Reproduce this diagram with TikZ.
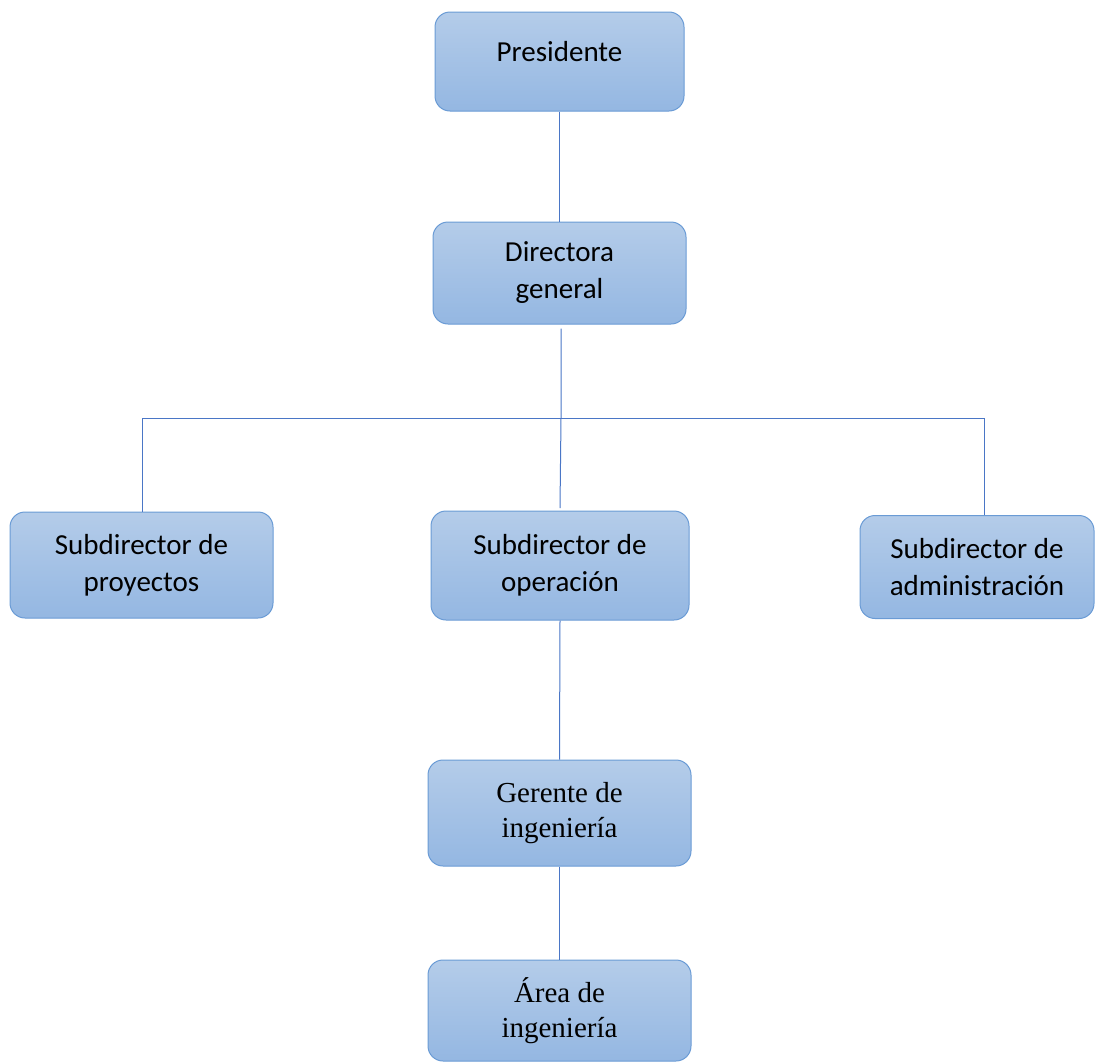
\documentclass[tikz,border=0pt]{standalone}
\usepackage{fontspec}
\setmainfont{Carlito}
\newfontfamily\timesfont{Liberation Serif}
\begin{document}
\begin{tikzpicture}[x=1pt,y=-1pt,
  orgbox/.style={draw=boxborder, line width=1pt, rounded corners=15pt,
    top color=boxtop, bottom color=boxbottom, align=center,
    inner sep=0pt, font=\fontsize{29}{37}\selectfont},
  serifbox/.style={orgbox, font=\timesfont\fontsize{29}{35}\selectfont},
  link/.style={draw=linecol, line width=1pt}]
\definecolor{boxtop}{HTML}{B4CCE9}
\definecolor{boxbottom}{HTML}{94B7E2}
\definecolor{boxborder}{HTML}{6A9BD5}
\definecolor{linecol}{HTML}{4A76C6}
\useasboundingbox (0,0) rectangle (1095,1063);
\node[orgbox, minimum width=249pt, minimum height=99pt] (pres) at (559.5,61.5) {\smash{Presidente}};
\node[orgbox, minimum width=253pt, minimum height=102pt] (dir) at (559.5,273) {Directora\\general};
\node[orgbox, minimum width=263pt, minimum height=106pt] (proy) at (141.5,565) {Subdirector de\\proyectos};
\node[orgbox, minimum width=258pt, minimum height=109pt] (op) at (560,565.5) {Subdirector de\\operación};
\node[orgbox, minimum width=234pt, minimum height=103pt] (adm) at (977,567) {Subdirector de\\administración};
\node[serifbox, minimum width=263pt, minimum height=106pt] (ger) at (559.5,813) {Gerente de\\ingeniería};
\node[serifbox, minimum width=263pt, minimum height=101pt] (area) at (559.5,1010.5) {Área de\\ingeniería};
\coordinate (j) at (561,418);
\coordinate (hl) at (142,418);
\coordinate (hr) at (984,418);
\path[link] (pres.south) -- (dir.north);
\path[link] (dir.south -| j) ++(0,4) -- (j) -- (560,508);
\path[link] (hl) -- (hr);
\path[link] (hl) -- (proy.north -| hl);
\path[link] (hr) -- (adm.north -| hr);
\path[link] (op.south) -- (ger.north);
\path[link] (ger.south) -- (area.north);
\end{tikzpicture}
\end{document}
